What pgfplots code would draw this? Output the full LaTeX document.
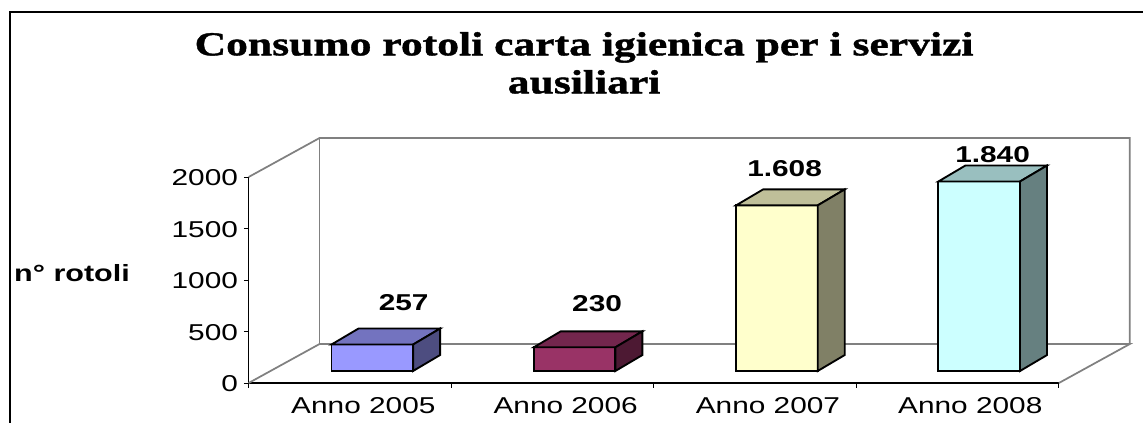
\documentclass[border=0pt]{standalone}
\usepackage{fontspec}
\usepackage{pgfplots}
\pgfplotsset{compat=1.18}
\setmainfont{Liberation Sans}
\newfontfamily\cf[FakeStretch=1.3]{Liberation Sans}
\newfontfamily\cfb[FakeStretch=1.3]{Liberation Sans Bold}
\newfontfamily\ttl[FakeStretch=1.3,FakeBold=1.2]{Liberation Serif Bold}
\definecolor{aF}{HTML}{9999FF}\definecolor{aT}{HTML}{7373BF}\definecolor{aS}{HTML}{4D4D80}
\definecolor{bF}{HTML}{993366}\definecolor{bT}{HTML}{73264D}\definecolor{bS}{HTML}{4D1933}
\definecolor{cF}{HTML}{FFFFCC}\definecolor{cT}{HTML}{BFBF99}\definecolor{cS}{HTML}{808066}
\definecolor{dF}{HTML}{CCFFFF}\definecolor{dT}{HTML}{99BFBF}\definecolor{dS}{HTML}{668080}
\definecolor{wall}{HTML}{808080}
\newcommand{\fs}{\fontsize{17.2pt}{19pt}\selectfont}
\pgfplotsset{common/.style={
  scale only axis, width=607.7pt, height=154.5pt,
  at={(186.5pt,30pt)}, anchor=south west, clip=false}}
\begin{document}
\begin{tikzpicture}[x=0.75pt,y=0.75pt]
\useasboundingbox (0,0) rectangle (1143,423);
\fill[white] (0,0) rectangle (1143,423);
\draw[line width=1.2pt] (10,0) -- (10,411) -- (1143,411);
% walls, axis lines, value scale
\begin{axis}[common,
  xmin=0,xmax=4,ymin=0,ymax=2000,
  axis lines*=left,
  xtick={0,1,2,3,4},xticklabels={},
  ytick={0,500,1000,1500,2000},
  tick align=outside,
  major tick length=3.5pt,
  tick style={black,line width=0.7pt},
  axis line style={black,line width=0.9pt},
  /pgf/number format/assume math mode=true,
  /pgf/number format/1000 sep={},
  yticklabel style={font=\cf\fs,xshift=-1pt,yshift=-0.5pt},
  title={Consumo rotoli carta igienica per i servizi\\ausiliari},
  title style={font=\ttl\fontsize{25.15pt}{28.5pt}\selectfont,align=center,at={(axis description cs:0.414,1.515)},anchor=center},
  ylabel={n° rotoli},
  ylabel style={font=\cfb\fontsize{17.6pt}{19pt}\selectfont,rotate=-90,at={(axis description cs:-0.218,0.535)},anchor=center},
]
\addplot[wall,line width=1.3pt] coordinates {(0,0) (0.35,378.6) (4.35,378.6) (4,0)};
\addplot[wall,line width=1.3pt] coordinates {(0,2000) (0.35,2378.6) (4.35,2378.6) (4.35,378.6)};
\addplot[wall,line width=1.3pt] coordinates {(0.35,378.6) (0.35,2378.6)};
\end{axis}
% bars
\begin{axis}[common,
  xmin=-0.611,xmax=3.394,ymin=-116.5,ymax=1883.5,
  axis line style={draw=none},
  ytick=\empty,
  xtick={0,1,2,3},
  xticklabels={Anno 2005,Anno 2006,Anno 2007,Anno 2008},
  major tick length=0pt,
  xticklabel style={font=\cf\fs,xshift=-6.7pt,yshift=-7pt},
  ybar, bar width=61.2pt,
  every axis plot/.append style={draw=black,line width=1.4pt,line join=miter},
]
\addplot[fill=aF,bar shift=0pt] coordinates {(0,257)};
\addplot[fill=bF,bar shift=0pt] coordinates {(1,230)};
\addplot[fill=cF,bar shift=0pt] coordinates {(2,1608)};
\addplot[fill=dF,bar shift=0pt] coordinates {(3,1840)};
% top and side faces
\addplot[sharp plot,fill=aT] coordinates {(-0.2017,257) (0.2017,257) (0.3352,412) (-0.0682,412)} --cycle;
\addplot[sharp plot,fill=aS] coordinates {(0.2017,0) (0.3352,155) (0.3352,412) (0.2017,257)} --cycle;
\addplot[sharp plot,fill=bT] coordinates {(0.7983,230) (1.2017,230) (1.3352,385) (0.9318,385)} --cycle;
\addplot[sharp plot,fill=bS] coordinates {(1.2017,0) (1.3352,155) (1.3352,385) (1.2017,230)} --cycle;
\addplot[sharp plot,fill=cT] coordinates {(1.7983,1608) (2.2017,1608) (2.3352,1763) (1.9318,1763)} --cycle;
\addplot[sharp plot,fill=cS] coordinates {(2.2017,0) (2.3352,155) (2.3352,1763) (2.2017,1608)} --cycle;
\addplot[sharp plot,fill=dT] coordinates {(2.7983,1840) (3.2017,1840) (3.3352,1995) (2.9318,1995)} --cycle;
\addplot[sharp plot,fill=dS] coordinates {(3.2017,0) (3.3352,155) (3.3352,1995) (3.2017,1840)} --cycle;
\node[font=\cfb\fs] at (axis cs:0.155,663) {257};
\node[font=\cfb\fs] at (axis cs:1.111,650) {230};
\node[font=\cfb\fs] at (axis cs:2.038,1961) {1.608};
\node[font=\cfb\fs] at (axis cs:3.066,2097) {1.840};
\end{axis}
\end{tikzpicture}
\end{document}
